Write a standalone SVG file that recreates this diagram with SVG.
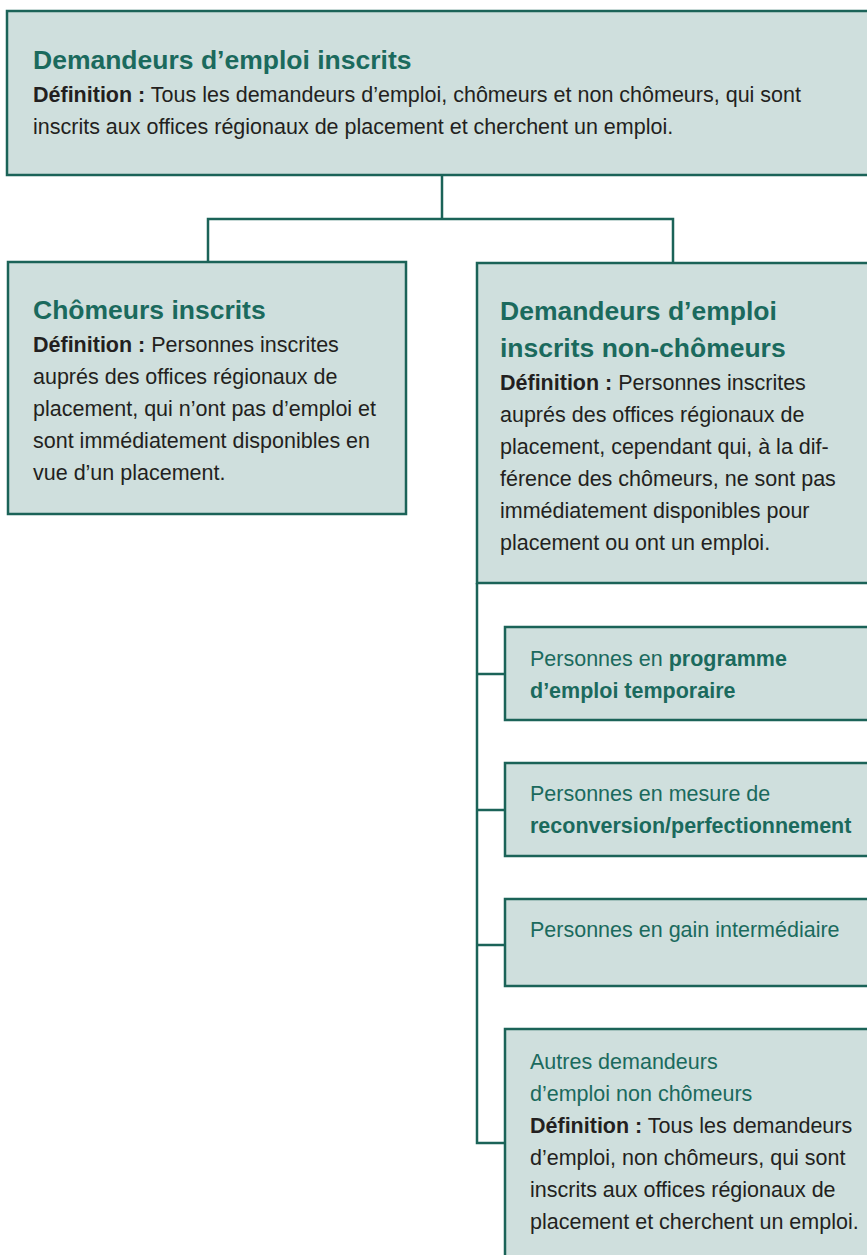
<svg xmlns="http://www.w3.org/2000/svg" width="867" height="1255" viewBox="0 0 867 1255">
<style>
.box{fill:#cfdfdd;stroke:#1b6358;stroke-width:2.5}
.con{fill:none;stroke:#1b6358;stroke-width:2.5}
text{font-family:"Liberation Sans",Arial,sans-serif}
.title{font-size:26.5px;font-weight:bold;fill:#1b6a5d}
.body{font-size:21.5px;fill:#231f20}
.b{font-weight:bold}
.teal{font-size:21.5px;fill:#1b6a5d}
</style>
<rect width="867" height="1255" fill="#ffffff"/>
<g id="connectors">
<path class="con" d="M442 175 V219"/>
<path class="con" d="M208 262 V219 H673 V263"/>
<path class="con" d="M477 583 V1143 H505"/>
<path class="con" d="M477 674 H505"/>
<path class="con" d="M477 810 H505"/>
<path class="con" d="M477 945 H505"/>
</g>
<g id="node-top">
<rect class="box" x="7" y="11" width="880" height="164"/>
<text class="title" x="33" y="69">Demandeurs d’emploi inscrits</text>
<text class="body" x="33" y="102"><tspan class="b">Définition :</tspan> Tous les demandeurs d’emploi, chômeurs et non chômeurs, qui sont</text>
<text class="body" x="33" y="134">inscrits aux offices régionaux de placement et cherchent un emploi.</text>
</g>
<g id="node-chomeurs">
<rect class="box" x="8" y="262" width="398" height="252"/>
<text class="title" x="33" y="319">Chômeurs inscrits</text>
<text class="body" x="33" y="352"><tspan class="b">Définition :</tspan> Personnes inscrites</text>
<text class="body" x="33" y="384">auprés des offices régionaux de</text>
<text class="body" x="33" y="416">placement, qui n’ont pas d’emploi et</text>
<text class="body" x="33" y="448">sont immédiatement disponibles en</text>
<text class="body" x="33" y="480">vue d’un placement.</text>
</g>
<g id="node-non-chomeurs">
<rect class="box" x="477" y="263" width="400" height="320"/>
<text class="title" x="500" y="320">Demandeurs d’emploi</text>
<text class="title" x="500" y="357">inscrits non-chômeurs</text>
<text class="body" x="500" y="390"><tspan class="b">Définition :</tspan> Personnes inscrites</text>
<text class="body" x="500" y="422">auprés des offices régionaux de</text>
<text class="body" x="500" y="454">placement, cependant qui, à la dif-</text>
<text class="body" x="500" y="486">férence des chômeurs, ne sont pas</text>
<text class="body" x="500" y="518">immédiatement disponibles pour</text>
<text class="body" x="500" y="550">placement ou ont un emploi.</text>
</g>
<g id="node-programme">
<rect class="box" x="505" y="627" width="380" height="93"/>
<text class="teal" x="530" y="666">Personnes en <tspan class="b">programme</tspan></text>
<text class="teal b" x="530" y="698">d’emploi temporaire</text>
</g>
<g id="node-reconversion">
<rect class="box" x="505" y="763" width="380" height="93"/>
<text class="teal" x="530" y="801">Personnes en mesure de</text>
<text class="teal b" x="530" y="833">reconversion/perfectionnement</text>
</g>
<g id="node-gain">
<rect class="box" x="505" y="899" width="380" height="87"/>
<text class="teal" x="530" y="937">Personnes en gain intermédiaire</text>
</g>
<g id="node-autres">
<rect class="box" x="505" y="1029" width="380" height="260"/>
<text class="teal" x="530" y="1069">Autres demandeurs</text>
<text class="teal" x="530" y="1101">d’emploi non chômeurs</text>
<text class="body" x="530" y="1133"><tspan class="b">Définition :</tspan> Tous les demandeurs</text>
<text class="body" x="530" y="1165">d’emploi, non chômeurs, qui sont</text>
<text class="body" x="530" y="1197">inscrits aux offices régionaux de</text>
<text class="body" x="530" y="1229">placement et cherchent un emploi.</text>
</g>
</svg>
